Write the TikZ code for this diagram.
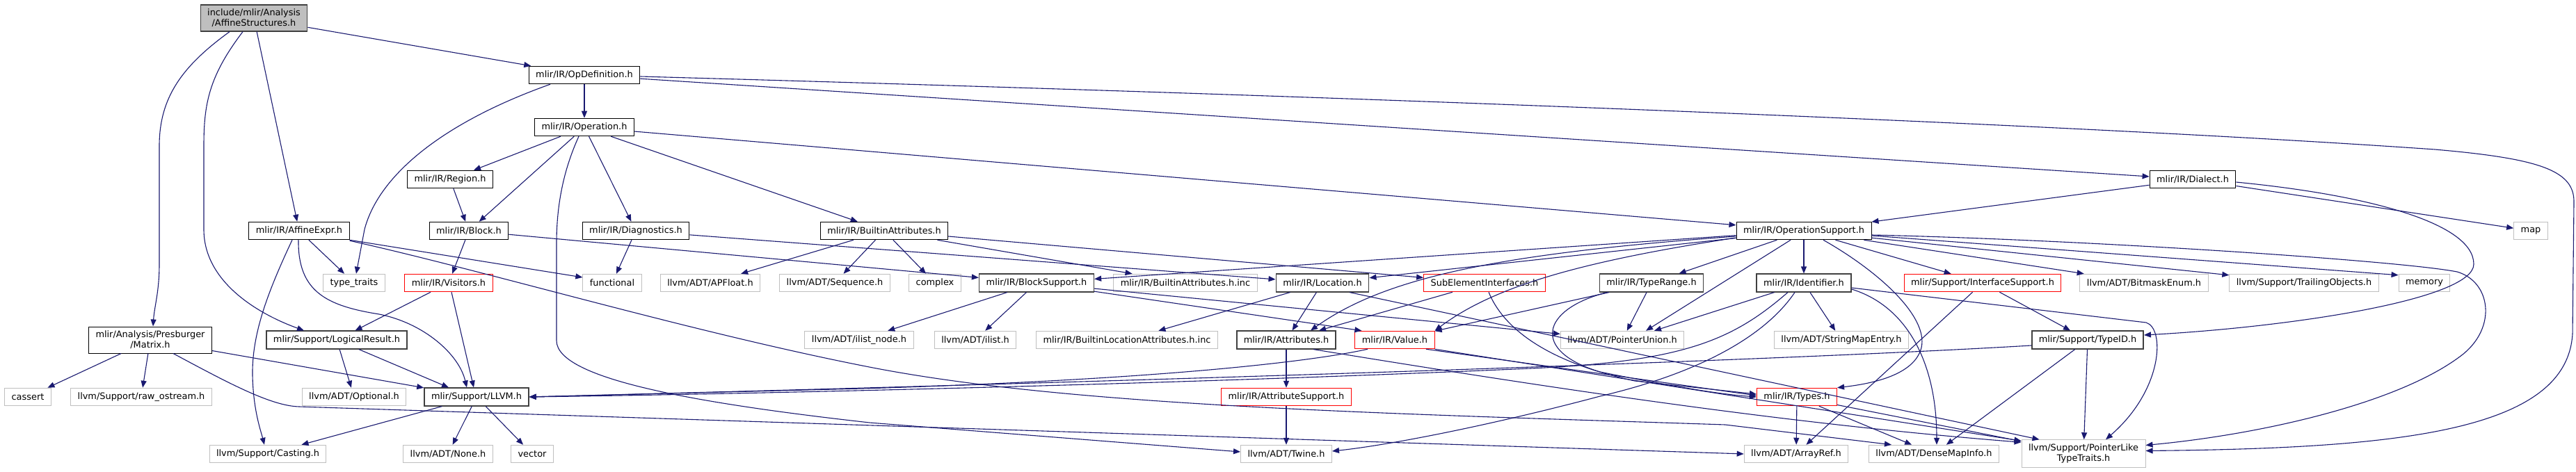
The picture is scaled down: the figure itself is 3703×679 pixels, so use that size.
\documentclass[tikz,border=0pt]{standalone}
\usepackage{fontspec}
\setmainfont{DejaVu Sans}
\usetikzlibrary{arrows.meta}
\definecolor{edgeblue}{HTML}{191970}
\definecolor{extgray}{HTML}{BFBFBF}
\definecolor{rootgray}{HTML}{BFBFBF}
\definecolor{darkborder}{HTML}{404040}
\begin{document}
\begin{tikzpicture}[x=1pt,y=-1pt,
  box/.style={rectangle, font=\fontsize{12.9pt}{15pt}\selectfont, inner xsep=10pt, inner ysep=6pt, minimum height=25.5pt, align=center, line width=1pt, text=black, fill=white},
  ext/.style={box, draw=extgray},
  doc/.style={box, draw=black},
  docd/.style={box, draw=darkborder, line width=1.6pt},
  trunc/.style={box, draw=red},
  rootbox/.style={box, draw=darkborder, fill=rootgray, line width=1.3pt},
  conn/.style={draw=edgeblue, line width=1.1pt, -{Triangle[length=10pt,width=8pt]}}]
\path[fill=white] (0,0) rectangle (3703,679);
\useasboundingbox (0,0) rectangle (3703,679);

% row 0-3
\node[rootbox] (root) at (365,26) {include/mlir/Analysis\\/AffineStructures.h};
\node[doc] (opdef) at (840,108) {mlir/IR/OpDefinition.h};
\node[doc] (oper) at (840,183) {mlir/IR/Operation.h};
\node[doc] (region) at (647,258) {mlir/IR/Region.h};
\node[doc] (dialect) at (3152,258) {mlir/IR/Dialect.h};
% row 4
\node[doc] (affexpr) at (430,332) {mlir/IR/AffineExpr.h};
\node[doc] (block) at (674,332) {mlir/IR/Block.h};
\node[doc] (diag) at (914,332) {mlir/IR/Diagnostics.h};
\node[doc] (battr) at (1271,332) {mlir/IR/BuiltinAttributes.h};
\node[doc] (opsup) at (2593,332) {mlir/IR/OperationSupport.h};
\node[ext] (map) at (3638,332) {map};
% row 5
\node[ext] (tt) at (509,407) {type\_traits};
\node[trunc] (visit) at (645,407) {mlir/IR/Visitors.h};
\node[ext] (func) at (880,407) {functional};
\node[ext] (apf) at (1021,407) {llvm/ADT/APFloat.h};
\node[ext] (seq) at (1200,407) {llvm/ADT/Sequence.h};
\node[ext] (cplx) at (1344,407) {complex};
\node[docd] (bsup) at (1490,407) {mlir/IR/BlockSupport.h};
\node[ext] (bainc) at (1704,407) {mlir/IR/BuiltinAttributes.h.inc};
\node[docd] (loc) at (1901,407) {mlir/IR/Location.h};
\node[trunc] (sei) at (2134,407) {SubElementInterfaces.h};
\node[docd] (trange) at (2374,407) {mlir/IR/TypeRange.h};
\node[docd] (ident) at (2593,407) {mlir/IR/Identifier.h};
\node[trunc] (isup) at (2850,407) {mlir/Support/InterfaceSupport.h};
\node[ext] (bme) at (3082,407) {llvm/ADT/BitmaskEnum.h};
\node[ext] (tobj) at (3312,407) {llvm/Support/TrailingObjects.h};
\node[ext] (mem) at (3485,407) {memory};
% row 6
\node[doc] (matrix) at (216,489) {mlir/Analysis/Presburger\\/Matrix.h};
\node[docd] (lres) at (484,489) {mlir/Support/LogicalResult.h};
\node[ext] (ilnode) at (1235,489) {llvm/ADT/ilist\_node.h};
\node[ext] (ilist) at (1402,489) {llvm/ADT/ilist.h};
\node[ext] (blainc) at (1620,489) {mlir/IR/BuiltinLocationAttributes.h.inc};
\node[docd] (attrs) at (1849,489) {mlir/IR/Attributes.h};
\node[trunc] (value) at (2005,489) {mlir/IR/Value.h};
\node[ext] (punion) at (2332,489) {llvm/ADT/PointerUnion.h};
\node[ext] (smentry) at (2647,489) {llvm/ADT/StringMapEntry.h};
\node[docd] (typeid) at (3001,489) {mlir/Support/TypeID.h};
% row 7
\node[ext] (cassert) at (40,571) {cassert};
\node[ext] (rawos) at (203,571) {llvm/Support/raw\_ostream.h};
\node[ext] (optional) at (509,571) {llvm/ADT/Optional.h};
\node[docd] (llvm) at (685,571) {mlir/Support/LLVM.h};
\node[trunc] (asup) at (1849,571) {mlir/IR/AttributeSupport.h};
\node[trunc] (types) at (2583,571) {mlir/IR/Types.h};
% row 8
\node[ext] (casting) at (385,653) {llvm/Support/Casting.h};
\node[ext] (nonenode) at (644,653) {llvm/ADT/None.h};
\node[ext] (vector) at (765,653) {vector};
\node[ext] (twine) at (1849,653) {llvm/ADT/Twine.h};
\node[ext] (aref) at (2582,653) {llvm/ADT/ArrayRef.h};
\node[ext] (dmi) at (2780,653) {llvm/ADT/DenseMapInfo.h};
\node[ext] (plt) at (2995,652.5) {llvm/Support/PointerLike\\TypeTraits.h};

% root
\draw[conn] (root) -- (opdef);
\draw[conn] (root) -- (affexpr);
\draw[conn] ([xshift=-16pt]root.south) .. controls (300,110) and (293,150) .. (293,210) -- (293,330) .. controls (293,410) and (380,455) .. ([xshift=-47pt]lres.north);
\draw[conn] ([xshift=-35pt]root.south) .. controls (262,95) and (229,140) .. (229,210) -- (229,380) .. controls (229,420) and (222,440) .. ([xshift=4pt]matrix.north);
% opdef
\draw[conn] (opdef) -- (oper);
\draw[conn] ([xshift=-49pt]opdef.south) .. controls (640,175) and (545,250) .. (524,330) -- ([xshift=3pt]tt.north);
\draw[conn] (opdef) -- (dialect);
\draw[conn] ([yshift=-2pt]opdef.east) .. controls (2000,140) and (3000,180) .. (3500,215) .. controls (3650,228) and (3700,245) .. (3700,290) -- (3698,480) .. controls (3690,620) and (3450,645) .. ([yshift=4pt]plt.east);
% oper
\draw[conn] (oper) -- (region);
\draw[conn] (oper) -- (block);
\draw[conn] ([xshift=-8pt]oper.south) .. controls (812,240) and (800,290) .. (800,350) -- (800,490) .. controls (800,545) and (1000,580) .. (1250,608) -- ([yshift=3pt]twine.west);
\draw[conn] (oper) -- (diag);
\draw[conn] (oper) -- (battr);
\draw[conn] (oper) -- (opsup);
\draw[conn] (region) -- (block);
% dialect
\draw[conn] (dialect) -- (opsup);
\draw[conn] (dialect) -- (map);
\draw[conn] ([yshift=-4pt]dialect.east) .. controls (3400,280) and (3556,320) .. (3556,380) .. controls (3556,430) and (3300,470) .. ([yshift=7pt]typeid.east);
% affexpr
\draw[conn] (affexpr) -- (tt);
\draw[conn] ([xshift=-1pt]affexpr.south) .. controls (428,420) and (470,440) .. (545,452) .. controls (610,465) and (660,510) .. ([xshift=-14pt]llvm.north);
\draw[conn] ([xshift=-10pt]affexpr.south) .. controls (385,420) and (362,480) .. (363,540) .. controls (364,590) and (375,620) .. ([xshift=-5pt]casting.north);
\draw[conn] (affexpr.south east) -- ([yshift=8pt]func.west);
\draw[conn] ([yshift=-1pt]affexpr.south east) .. controls (700,390) and (1000,480) .. (1260,530) .. controls (1550,585) and (2000,595) .. (2480,611) -- ([xshift=33pt]dmi.north west);
% visitors, block, diag, battr
\draw[conn] (visit) -- (lres);
\draw[conn] ([xshift=4pt]visit.south) -- ([xshift=-4pt]llvm.north);
\draw[conn] (block) -- (visit);
\draw[conn] (block) -- (bsup);
\draw[conn] (diag) -- (func);
\draw[conn] (diag) -- (loc);
\draw[conn] (battr) -- (apf);
\draw[conn] (battr) -- (seq);
\draw[conn] (battr) -- (cplx);
\draw[conn] (battr) -- (bainc);
\draw[conn] (battr) -- (sei);
% blocksupport
\draw[conn] (bsup) -- (ilnode);
\draw[conn] (bsup) -- (ilist);
\draw[conn] (bsup) -- (punion);
\draw[conn] (bsup) -- ([xshift=10pt]value.north west);
% location, attributes
\draw[conn] (loc) -- (attrs);
\draw[conn] (loc) -- (blainc);
\draw[conn] ([xshift=39pt]loc.south) -- ([xshift=26pt]plt.north west);
\draw[conn] (attrs) -- (asup);
\draw[conn] ([xshift=39pt]attrs.south) .. controls (2300,570) and (2600,612) .. ([yshift=-4pt]plt.north west);
\draw[conn] (asup) -- (twine);
% subelement
\draw[conn] (sei) -- (attrs);
\draw[conn] ([xshift=6pt]sei.south) .. controls (2160,470) and (2220,520) .. (2350,548) -- ([yshift=4pt]types.west);
% typerange
\draw[conn] (trange) -- (punion);
\draw[conn] (trange) -- (value);
\draw[conn] ([xshift=-64pt]trange.south) .. controls (2215,445) and (2200,505) .. (2300,535) .. controls (2400,555) and (2470,567) .. (types.west);
% value
\draw[conn] ([xshift=-39pt]value.south) .. controls (1900,517) and (1700,545) .. (1240,559) -- (llvm.east);
\draw[conn] ([xshift=45pt]value.south) -- ([yshift=2pt]types.west);
\draw[conn] (value.south east) -- ([yshift=-2pt]plt.north west);
% identifier
\draw[conn] (ident) -- (smentry);
\draw[conn] ([yshift=-9pt]ident.east) .. controls (2740,440) and (2784,520) .. ([xshift=4pt]dmi.north);
\draw[conn] ([yshift=-7pt]ident.east) -- (3085,464) .. controls (3112,472) and (3110,560) .. ([xshift=32pt]plt.north);
\draw[conn] (ident) -- ([xshift=46pt]punion.north);
\draw[conn] ([xshift=-23pt]ident.south) .. controls (2490,490) and (2420,520) .. (2200,530) .. controls (1800,548) and (1200,565) .. (llvm.east);
\draw[conn] ([xshift=-13pt]ident.south) .. controls (2540,480) and (2450,535) .. (2300,570) .. controls (2150,610) and (2000,640) .. ([yshift=4pt]twine.east);
% operation support
\draw[conn] (opsup) -- (bsup);
\draw[conn] (opsup) -- (loc);
\draw[conn] ([yshift=-8pt]opsup.west) .. controls (2150,365) and (1990,400) .. ([xshift=35pt]attrs.north);
\draw[conn] (opsup) -- (trange);
\draw[conn] ([yshift=-10pt]opsup.west) .. controls (2280,375) and (2150,410) .. (value.north east);
\draw[conn] ([xshift=-19pt]opsup.south) -- ([xshift=34pt]punion.north);
\draw[conn] (opsup) -- (ident);
\draw[conn] ([xshift=28pt]opsup.south) .. controls (2700,390) and (2772,455) .. (2762,500) .. controls (2752,540) and (2690,552) .. (types.north east);
\draw[conn] (opsup) -- (isup);
\draw[conn] (opsup) -- (bme);
\draw[conn] (opsup) -- (tobj);
\draw[conn] ([yshift=-7pt]opsup.east) -- ([yshift=-2pt]mem.north west);
\draw[conn] ([yshift=-6pt]opsup.east) .. controls (3000,345) and (3450,375) .. (3532,391) .. controls (3580,405) and (3590,470) .. (3540,510) .. controls (3450,580) and (3250,625) .. ([yshift=12pt]plt.east);
% interface support, typeid, types
\draw[conn] (isup) -- (typeid);
\draw[conn] (isup) -- (aref);
\draw[conn] ([yshift=-8pt]typeid.west) .. controls (2500,522) and (1500,552) .. (llvm.east);
\draw[conn] (typeid) -- (dmi);
\draw[conn] (typeid) -- (plt);
\draw[conn] (types) -- (aref);
\draw[conn] (types) -- (dmi);
\draw[conn] (types) -- (plt);
% matrix, logicalresult, llvm
\draw[conn] (matrix) -- (cassert);
\draw[conn] (matrix) -- (rawos);
\draw[conn] (matrix) -- (llvm);
\draw[conn] ([xshift=33pt]matrix.south) .. controls (330,552) and (390,584) .. (430,585) -- (aref.west);
\draw[conn] (lres) -- (optional);
\draw[conn] (lres) -- ([xshift=-40pt]llvm.north);
\draw[conn] (llvm) -- (casting);
\draw[conn] (llvm) -- (nonenode);
\draw[conn] (llvm) -- (vector);
\end{tikzpicture}
\end{document}
